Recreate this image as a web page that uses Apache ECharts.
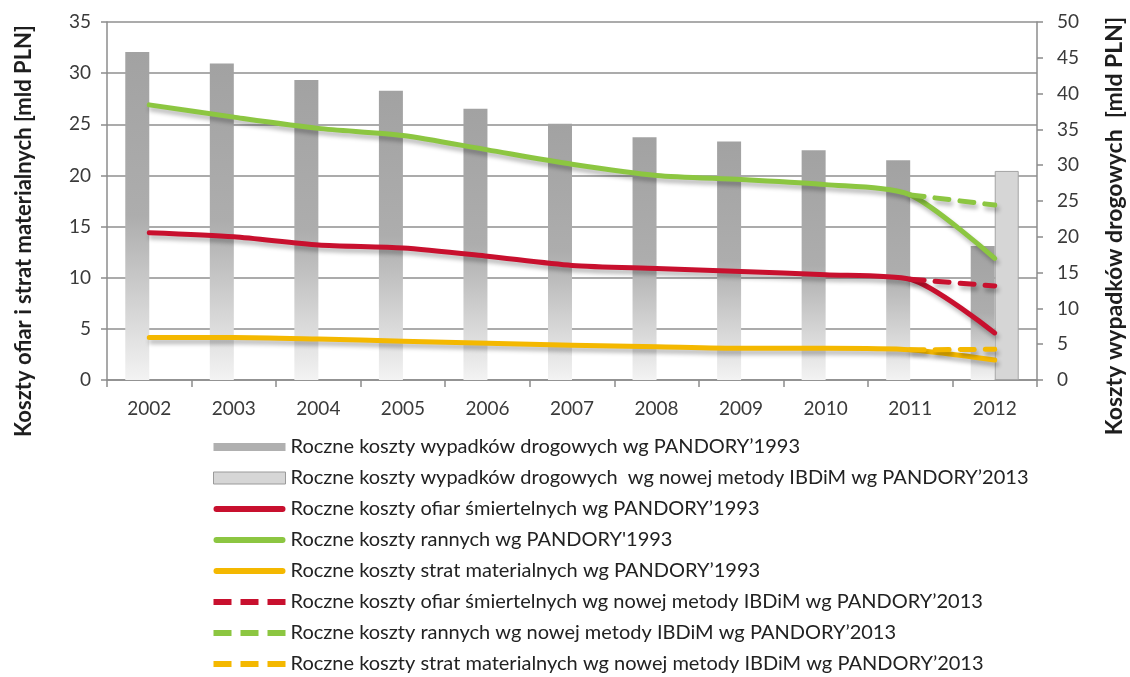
<!DOCTYPE html>
<html>
<head>
<meta charset="utf-8">
<script src="https://cdn.jsdelivr.net/npm/echarts@6/dist/echarts.min.js"></script>
<style>
  html, body { margin: 0; padding: 0; background: #fff; }
  #chart { width: 1130px; height: 677px; }
</style>
</head>
<body>
<div id="chart"></div>
<script>
// Years on the category axis
const years = ['2002', '2003', '2004', '2005', '2006', '2007', '2008', '2009', '2010', '2011', '2012'];

// Total yearly road accident costs [bn PLN] (right axis)
const totalPandora1993 = [45.8, 44.2, 41.9, 40.4, 37.9, 35.8, 33.9, 33.3, 32.1, 30.7, 18.7];
const totalIbdim2013   = [null, null, null, null, null, null, null, null, null, null, 29.2];

// Component costs [bn PLN] (left axis)
const fatalPandora1993    = [14.4, 14.0, 13.2, 12.9, 12.1, 11.2, 10.9, 10.6, 10.3, 9.85, 4.6];
const injuredPandora1993  = [26.9, 25.7, 24.6, 23.9, 22.5, 21.1, 20.0, 19.6, 19.1, 18.1, 11.9];
const materialPandora1993 = [4.15, 4.15, 4.0, 3.8, 3.6, 3.4, 3.25, 3.1, 3.1, 2.95, 1.95];

const fatalIbdim2013    = [null, null, null, null, null, null, null, null, null, 9.85, 9.2];
const injuredIbdim2013  = [null, null, null, null, null, null, null, null, null, 18.1, 17.1];
const materialIbdim2013 = [null, null, null, null, null, null, null, null, null, 2.95, 3.0];

// Axis ticks
const leftAxis  = { min: 0, max: 35, interval: 5 };
const rightAxis = { min: 0, max: 50, interval: 5 };

// Series names (legend texts)
const names = {
  total93:   'Roczne koszty wypadków drogowych wg PANDORY’1993',
  total13:   'Roczne koszty wypadków drogowych  wg nowej metody IBDiM wg PANDORY’2013',
  fatal93:   'Roczne koszty ofiar śmiertelnych wg PANDORY’1993',
  injured93: 'Roczne koszty rannych wg PANDORY\'1993',
  mat93:     'Roczne koszty strat materialnych wg PANDORY’1993',
  fatal13:   'Roczne koszty ofiar śmiertelnych wg nowej metody IBDiM wg PANDORY’2013',
  injured13: 'Roczne koszty rannych wg nowej metody IBDiM wg PANDORY’2013',
  mat13:     'Roczne koszty strat materialnych wg nowej metody IBDiM wg PANDORY’2013'
};

const RED = '#c8102e', GREEN = '#8cc641', YELLOW = '#f4b800';
const FONT = 'Lato, "Noto Sans", sans-serif';

// Legend glyphs: a rounded stroke for solid lines, three dashes for dashed lines
const ICON_SOLID = 'path://M3,0H69A3,3,0,0,1,69,6H3A3,3,0,0,1,3,0Z';
const ICON_DASHED = 'path://M0,0H18V6H0Z M27,0H45V6H27Z M54,0H72V6H54Z';
const ICON_BAR = 'path://M0,0H72V8H0Z';

function lineSeries(name, data, color, dashed) {
  return {
    name, type: 'line', data, yAxisIndex: 0,
    symbol: 'none', smooth: 0.25, connectNulls: false,
    z: dashed ? 4 : 3,
    lineStyle: {
      color, width: 5, cap: 'round', join: 'round',
      type: dashed ? [14, 11] : 'solid',
      shadowColor: 'rgba(0,0,0,0.28)', shadowBlur: 4, shadowOffsetX: 2, shadowOffsetY: 4
    },
    itemStyle: { color },
    emphasis: { disabled: true }
  };
}

function legendLine(name, color, dashed) {
  return { name, icon: dashed ? ICON_DASHED : ICON_SOLID, itemStyle: { color, borderWidth: 0 } };
}

const chart = echarts.init(document.getElementById('chart'), null, { renderer: 'canvas' });

chart.setOption({
  animation: false,
  backgroundColor: '#ffffff',
  textStyle: { fontFamily: FONT },
  grid: { left: 107, right: 93, top: 22, bottom: 297, containLabel: false, outerBoundsMode: 'none' },
  legend: {
    orient: 'vertical',
    left: 213, top: 437, height: 260,
    padding: 0,
    itemWidth: 72, itemHeight: 12, itemGap: 11, itemTextGap: 5,
    symbolKeepAspect: true,
    selectedMode: false,
    textStyle: { fontFamily: FONT, fontSize: 20, color: '#222', lineHeight: 20 },
    data: [
      { name: names.total93, icon: ICON_BAR, itemStyle: { color: '#b0b0b0', borderWidth: 0 } },
      { name: names.total13, icon: 'rect', itemStyle: { color: '#d6d6d6', borderColor: '#9a9a9a', borderWidth: 1 } },
      legendLine(names.fatal93, RED, false),
      legendLine(names.injured93, GREEN, false),
      legendLine(names.mat93, YELLOW, false),
      legendLine(names.fatal13, RED, true),
      legendLine(names.injured13, GREEN, true),
      legendLine(names.mat13, YELLOW, true)
    ]
  },
  xAxis: {
    type: 'category', data: years, boundaryGap: true,
    axisLine: { lineStyle: { color: '#8c8c8c', width: 1.5 } },
    axisTick: { show: true, length: 7, lineStyle: { color: '#8c8c8c', width: 1.5 } },
    axisLabel: { fontFamily: FONT, fontSize: 19, color: '#3a3a3a', margin: 19 },
    splitLine: { show: false }
  },
  yAxis: [
    {
      type: 'value', position: 'left', min: leftAxis.min, max: leftAxis.max, interval: leftAxis.interval,
      name: 'Koszty ofiar i strat materialnych [mld PLN]',
      nameLocation: 'middle', nameGap: 72,
      nameTextStyle: { fontFamily: FONT, fontSize: 22, fontWeight: 'bold', color: '#1e1e1e', padding: [0, 60, 0, 0] },
      axisLine: { show: true, lineStyle: { color: '#8c8c8c', width: 1.5 } },
      axisTick: { show: true, length: 6, lineStyle: { color: '#8c8c8c', width: 1.5 } },
      axisLabel: { fontFamily: FONT, fontSize: 19, color: '#3a3a3a', margin: 16 },
      splitLine: { show: true, lineStyle: { color: '#8f8f8f', width: 1.5 } }
    },
    {
      type: 'value', position: 'right', min: rightAxis.min, max: rightAxis.max, interval: rightAxis.interval,
      name: 'Koszty wypadków drogowych  [mld PLN]',
      nameLocation: 'middle', nameGap: 66,
      nameTextStyle: { fontFamily: FONT, fontSize: 23, fontWeight: 'bold', color: '#1e1e1e', padding: [0, 50, 0, 0] },
      axisLine: { show: true, lineStyle: { color: '#8c8c8c', width: 1.5 } },
      axisTick: { show: true, length: 6, lineStyle: { color: '#8c8c8c', width: 1.5 } },
      axisLabel: { fontFamily: FONT, fontSize: 19, color: '#3a3a3a', margin: 20 },
      splitLine: { show: false }
    }
  ],
  series: [
    {
      name: names.total93, type: 'bar', yAxisIndex: 1, data: totalPandora1993,
      barWidth: 24, barGap: '0%', z: 2,
      itemStyle: {
        color: new echarts.graphic.LinearGradient(0, 0, 0, 1, [
          { offset: 0, color: '#a2a2a2' },
          { offset: 0.5, color: '#adadad' },
          { offset: 1, color: '#f3f3f3' }
        ])
      },
      emphasis: { disabled: true }
    },
    {
      name: names.total13, type: 'bar', yAxisIndex: 1, data: totalIbdim2013,
      barWidth: 24, barGap: '0%', z: 2,
      itemStyle: { color: '#d6d6d6', borderColor: '#a4a4a4', borderWidth: 1 },
      emphasis: { disabled: true }
    },
    lineSeries(names.fatal93, fatalPandora1993, RED, false),
    lineSeries(names.injured93, injuredPandora1993, GREEN, false),
    lineSeries(names.mat93, materialPandora1993, YELLOW, false),
    lineSeries(names.fatal13, fatalIbdim2013, RED, true),
    lineSeries(names.injured13, injuredIbdim2013, GREEN, true),
    lineSeries(names.mat13, materialIbdim2013, YELLOW, true)
  ]
});
</script>
</body>
</html>
